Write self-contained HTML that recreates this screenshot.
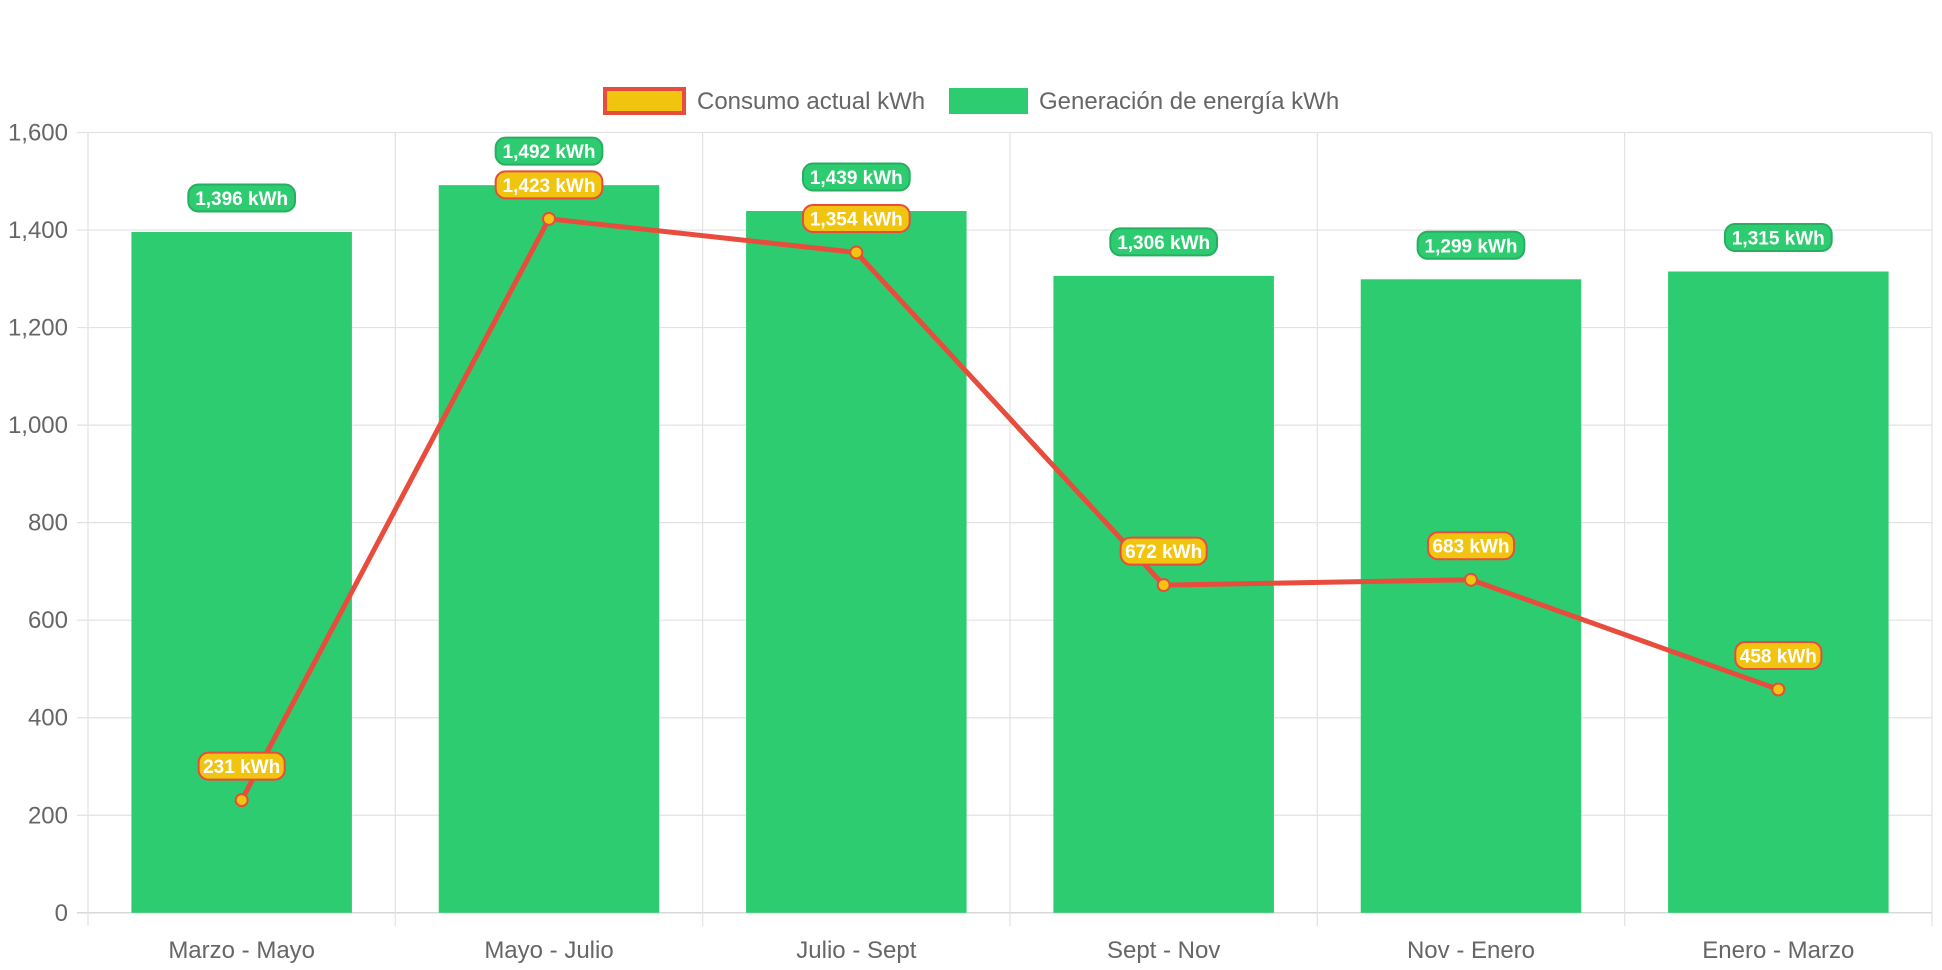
<!DOCTYPE html>
<html><head><meta charset="utf-8"><style>
html,body{margin:0;padding:0;background:#fff;}
svg{display:block;font-family:"Liberation Sans",sans-serif;}
</style></head><body>
<svg id="chart" width="1942" height="970"></svg>
<script>
const categories=["Marzo - Mayo","Mayo - Julio","Julio - Sept","Sept - Nov","Nov - Enero","Enero - Marzo"];
const generacion=[1396,1492,1439,1306,1299,1315];
const consumo=[231,1423,1354,672,683,458];
const yTicks=[0,200,400,600,800,1000,1200,1400,1600];
const NS="http://www.w3.org/2000/svg";
const svg=document.getElementById('chart');
const L=88,R=1932,T=132.5,B=912.8,YMAX=1600;
const band=(R-L)/categories.length;
function y(v){return B-(v/YMAX)*(B-T);}
function xc(i){return L+band*(i+0.5);}
function mk(tag,attrs,name,parent){const e=document.createElementNS(NS,tag);for(const k in attrs)e.setAttribute(k,attrs[k]);


(parent||svg).appendChild(e);return e;}
function fmt(v){return v.toLocaleString('en-US')+' kWh';}
yTicks.forEach(t=>{mk('line',{x1:77,x2:R,y1:y(t),y2:y(t),stroke:t===0?'#ccc':'#e2e2e2','stroke-width':1.2},'y-gridline');
const tx=mk('text',{x:68,y:y(t)+8,'text-anchor':'end','font-size':24,fill:'#666'},'y-tick-label');tx.textContent=t.toLocaleString('en-US');});
for(let i=0;i<=categories.length;i++){mk('line',{x1:L+band*i,x2:L+band*i,y1:T,y2:926,stroke:'#e2e2e2','stroke-width':1.2},'x-gridline');}
categories.forEach((c,i)=>{const tx=mk('text',{x:xc(i),y:958,'text-anchor':'middle','font-size':24,fill:'#666'},'x-tick-label');tx.textContent=c;});
const bw=220.5;
generacion.forEach((v,i)=>{mk('rect',{x:xc(i)-bw/2,y:y(v),width:bw,height:B-y(v),fill:'#2ecc71'},'bar-generacion');});
const pts=consumo.map((v,i)=>xc(i)+','+y(v)).join(' ');
mk('polyline',{points:pts,fill:'none',stroke:'#e74c3c','stroke-width':5,'stroke-linejoin':'round'},'line-consumo');
consumo.forEach((v,i)=>{mk('circle',{cx:xc(i),cy:y(v),r:6,fill:'#f1c40f',stroke:'#e74c3c','stroke-width':2},'point-consumo');});
function label(cx,cy,txt,fill,stroke,name){const w=txt.length*10.3+14,h=27;
mk('rect',{x:cx-w/2,y:cy-h/2,width:w,height:h,rx:10,fill:fill,stroke:stroke,'stroke-width':2},name+'-box');
const t=mk('text',{x:cx,y:cy+7,'text-anchor':'middle','font-size':19,'font-weight':'bold',fill:'#fff'},name);t.textContent=txt;}
generacion.forEach((v,i)=>label(xc(i),y(v)-34,fmt(v),'#2ecc71','#27ae60','label-generacion'));
consumo.forEach((v,i)=>label(xc(i),y(v)-34,fmt(v),'#f1c40f','#e74c3c','label-consumo'));
mk('rect',{x:605,y:89,width:79,height:24,fill:'#f1c40f',stroke:'#e74c3c','stroke-width':4},'legend-swatch-consumo');
let t=mk('text',{x:697,y:109,'font-size':24,fill:'#666'},'legend-label-consumo');t.textContent='Consumo actual kWh';
mk('rect',{x:949,y:88,width:79,height:26,fill:'#2ecc71'},'legend-swatch-generacion');
t=mk('text',{x:1039,y:109,'font-size':24,fill:'#666'},'legend-label-generacion');t.textContent='Generación de energía kWh';
</script>
</body></html>
